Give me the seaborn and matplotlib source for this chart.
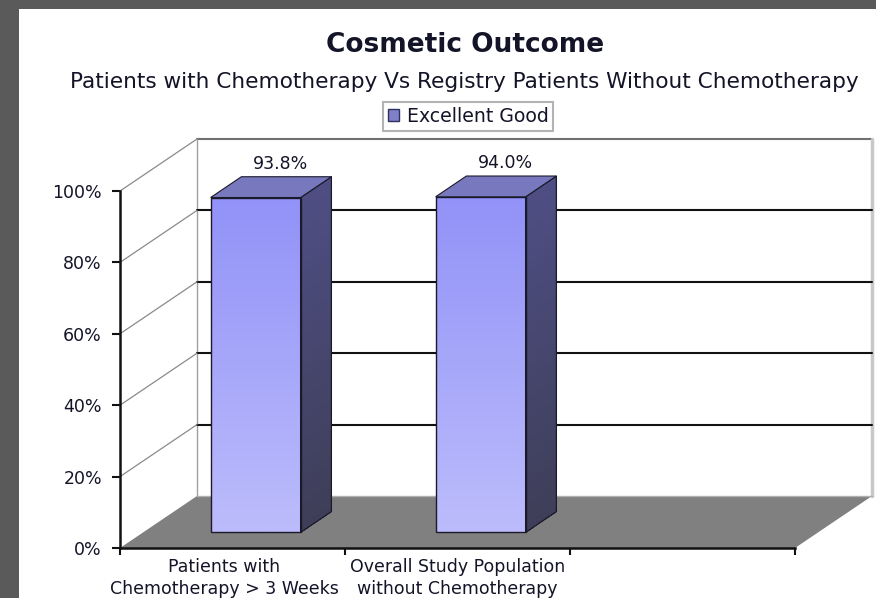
import numpy as np
import matplotlib
matplotlib.use("Agg")
import matplotlib.pyplot as plt
import matplotlib.transforms as mtransforms
from matplotlib.patches import Polygon, Rectangle, Patch
from matplotlib.collections import PolyCollection
from matplotlib.colors import LinearSegmentedColormap
import seaborn as sns

# ---- data ----
categories = ["Patients with\nChemotherapy > 3 Weeks",
              "Overall Study Population\nwithout Chemotherapy"]
values = [93.8, 94.0]
value_labels = ["93.8%", "94.0%"]
series_name = "Excellent Good"
y_ticks = [0, 20, 40, 60, 80, 100]
y_tick_labels = ["0%", "20%", "40%", "60%", "80%", "100%"]
n_slots = 3  # category slots on the axis (last one empty)

title = "Cosmetic Outcome"
subtitle = "Patients with Chemotherapy Vs Registry Patients Without Chemotherapy"

# ---- style ----
sns.set_theme(style="white")
plt.rcParams["font.family"] = ["DejaVu Sans"]
TXT = "#141428"

W, H = 876, 598
fig = plt.figure(figsize=(W / 100, H / 100), dpi=100)
fig.patch.set_facecolor("#5a5a5a")
fig.patches.append(Rectangle((19 / W, 0), 1 - 19 / W, 1 - 9 / H,
                             transform=fig.transFigure, facecolor="white",
                             edgecolor="none", zorder=-10))

ax = fig.add_axes([120 / W, 50 / H, 675 / W, 357 / H])
ax.set_facecolor("none")
ax.set_zorder(2)

# oblique depth of the 3-D box, in data units
DX = 77 / 225
DY = 52 / 3.57
D0, D1 = 0.3, 0.7  # bar depth span (fraction of box depth)

sns.barplot(x=categories, y=values, width=0.4, color="#9c9cf8",
            ax=ax, order=categories)

x_lo, x_hi = -0.5, n_slots - 0.5

# back wall
wall = Polygon([(x_lo + DX, DY), (x_hi + DX, DY), (x_hi + DX, 100 + DY),
                (x_lo + DX, 100 + DY)], closed=True, facecolor="white",
               edgecolor="none", zorder=0.5, clip_on=False)
ax.add_patch(wall)
ax.plot([x_lo + DX, x_hi + DX], [100 + DY, 100 + DY], color="#707070",
        lw=1.5, clip_on=False, zorder=1)
ax.plot([x_hi + DX, x_hi + DX], [DY, 100 + DY], color="#c8c8c8",
        lw=2.5, clip_on=False, zorder=1)
ax.plot([x_lo + DX, x_lo + DX], [DY, 100 + DY], color="#a0a0a0",
        lw=1.0, clip_on=False, zorder=1)
for t in y_ticks[1:-1]:
    ax.plot([x_lo + DX, x_hi + DX], [t + DY, t + DY], color="#111111",
            lw=1.5, clip_on=False, zorder=1)
# side wall lines
for t in y_ticks[1:]:
    ax.plot([x_lo, x_lo + DX], [t, t + DY], color="#8a8a8a", lw=0.9,
            clip_on=False, zorder=1)

# floor
floor = Polygon([(x_lo, 0), (x_hi, 0), (x_hi + DX, DY), (x_lo + DX, DY)],
                closed=True, facecolor="#808080", edgecolor="none",
                zorder=1.5, clip_on=False)
ax.add_patch(floor)
ax.plot([x_lo + DX, x_hi + DX], [DY, DY], color="#b0b0b0", lw=1.0,
        clip_on=False, zorder=1.6)

front_cmap = LinearSegmentedColormap.from_list("front", ["#bcbcfc", "#9292f8"])
side_cmap = LinearSegmentedColormap.from_list("side", ["#3e3e58", "#4e4e84"])
grad = np.linspace(0, 1, 256).reshape(-1, 1)
N_STRIPS = 80

bars = [p for p in ax.patches if isinstance(p, Rectangle) and p.get_height() > 0]
bars = bars[:len(values)]
for p, lab in zip(bars, value_labels):
    x0, w, h = p.get_x(), p.get_width(), p.get_height()
    fx = x0 + D0 * DX
    fy = D0 * DY
    p.set_x(fx)
    p.set_y(fy)
    p.set_facecolor("none")
    p.set_edgecolor("#1a1a2a")
    p.set_linewidth(1.0)
    p.set_zorder(6)
    ax.imshow(grad, cmap=front_cmap, origin="lower", aspect="auto",
              extent=(fx, fx + w, fy, fy + h), zorder=5)
    ddx, ddy = (D1 - D0) * DX, (D1 - D0) * DY
    # shaded side face, built from thin horizontal slices
    xs = fx + w
    ts = np.linspace(0, 1, N_STRIPS + 1)
    verts = []
    for a, b in zip(ts[:-1], ts[1:]):
        ya, yb = fy + a * h, fy + b * h
        verts.append([(xs, ya), (xs + ddx, ya + ddy), (xs + ddx, yb + ddy),
                      (xs, yb)])
    cols = side_cmap((ts[:-1] + ts[1:]) / 2)
    pc = PolyCollection(verts, facecolors=cols, edgecolors="none",
                        linewidths=0, antialiaseds=False, zorder=5,
                        clip_on=False)
    ax.add_collection(pc)
    side = Polygon([(xs, fy), (xs + ddx, fy + ddy),
                    (xs + ddx, fy + h + ddy), (xs, fy + h)],
                   closed=True, facecolor="none", edgecolor="#1a1a2a",
                   lw=0.9, zorder=6, clip_on=False)
    ax.add_patch(side)
    top = Polygon([(fx, fy + h), (fx + w, fy + h), (fx + w + ddx, fy + h + ddy),
                   (fx + ddx, fy + h + ddy)], closed=True, facecolor="#7878be",
                  edgecolor="#1a1a2a", lw=0.8, zorder=6, clip_on=False)
    ax.add_patch(top)
    cx = x0 + w / 2 + 0.6 * DX
    ax.annotate(lab, xy=(cx, h + 0.6 * DY), xytext=(1, 13),
                textcoords="offset points", ha="center", va="center",
                fontsize=12.5, color=TXT, annotation_clip=False)

ax.set_xlim(x_lo, x_hi)
ax.set_ylim(0, 100)

# axes, ticks
for s in ["top", "right"]:
    ax.spines[s].set_visible(False)
for s in ["left", "bottom"]:
    ax.spines[s].set_visible(True)
    ax.spines[s].set_color("#111111")
    ax.spines[s].set_linewidth(1.8)
    ax.spines[s].set_zorder(7)

ax.set_yticks(y_ticks)
ax.set_yticklabels(y_tick_labels, fontsize=12.5, color=TXT)
ax.tick_params(axis="y", direction="out", length=6, width=1.5,
               color="#111111", pad=7, left=True)

ax.set_xticks(np.arange(-0.5, n_slots, 1.0))
ax.set_xticklabels([])
ax.set_xticks(range(len(categories)), minor=True)
ax.set_xticklabels(categories, minor=True, fontsize=12.5, color=TXT,
                   linespacing=1.3)
ax.tick_params(axis="x", which="major", direction="out", length=5,
               width=1.5, color="#111111", bottom=True)
ax.tick_params(axis="x", which="minor", length=0, pad=7)
# the first (wider) label sits a little left of its slot centre
first = ax.get_xticklabels(minor=True)[0]
first.set_transform(first.get_transform() +
                    mtransforms.ScaledTranslation(-8 / 100, 0, fig.dpi_scale_trans))
ax.set_xlabel("")
ax.set_ylabel("")
ax.grid(False)

# titles and legend
fig.text(465 / W, 1 - 45 / H, title, ha="center", va="center",
         fontsize=19, fontweight="bold", color=TXT)
fig.text(464 / W, 1 - 82 / H, subtitle, ha="center", va="center",
         fontsize=15.6, color=TXT)
handle = Patch(facecolor="#8080c8", edgecolor="#303060", label=series_name)
leg = fig.legend(handles=[handle], loc="center",
                 bbox_to_anchor=(468 / W, 1 - 116.5 / H), fontsize=13.6,
                 frameon=True, fancybox=False, handlelength=0.6,
                 handleheight=0.6, handletextpad=0.4, borderpad=0.25)
leg.get_frame().set_edgecolor("#a0a0a0")
leg.get_frame().set_linewidth(1.5)
for t in leg.get_texts():
    t.set_color(TXT)

fig.savefig("out.png", dpi=100, facecolor=fig.get_facecolor())
